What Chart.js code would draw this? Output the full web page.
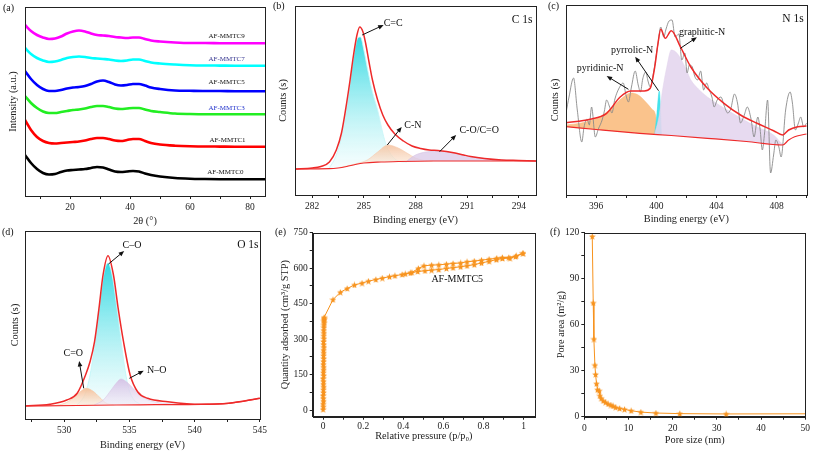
<!DOCTYPE html>
<html>
<head>
<meta charset="utf-8">
<script src="https://cdn.jsdelivr.net/npm/chart.js@4.4.1/dist/chart.umd.min.js"></script>
<style>
  body { margin: 0; background: #fff; width: 813px; height: 452px; position: relative; overflow: hidden; font-family: 'Liberation Serif', serif; }
  canvas { position: absolute; }
  .tag { position: absolute; font-size: 10px; color: #111; }
</style>
</head>
<body>
<canvas id="pa"></canvas><canvas id="pb"></canvas><canvas id="pc"></canvas>
<canvas id="pd"></canvas><canvas id="pe"></canvas><canvas id="pf"></canvas>
<div class="tag" style="left:3px;top:2px">(a)</div>
<div class="tag" style="left:273px;top:0px">(b)</div>
<div class="tag" style="left:548px;top:0px">(c)</div>
<div class="tag" style="left:2px;top:226px">(d)</div>
<div class="tag" style="left:275px;top:226px">(e)</div>
<div class="tag" style="left:550px;top:226px">(f)</div>
<script>
// (a) XRD patterns, stacked (intensity in arbitrary offset units)
const xrdAngle = [5,7,9,11,13,15,17,19,21,23,25,27,29,31,33,35,37,39,41,43,45,47,50,55,60,65,70,75,80,85];
const mmtc9 = [171,165,161,158.5,157,157.5,159.5,162.5,164.5,165.5,164.5,162.5,161,160.5,160,159,158.5,158,158.5,158.5,157,155.5,154.5,153.5,153,153,152.8,152.7,152.7,152.7];
const mmtc7 = [148,142,138,135.5,134,134.5,136,138,139,139.5,139,138,137.5,137,136.5,135.5,135,135.5,136.5,136.5,135,133.5,132.5,131.5,130.8,130.5,130.4,130.3,130.3,130.3];
const mmtc5 = [125,117,111,107,105,105,106,107.5,108.5,109,110,112,114.5,115.5,114,111.5,110.5,111,112,112,110.5,108.5,107,105.5,105.2,105,105,104.8,104.8,104.8];
const mmtc3 = [100,93,88,84.5,83,83,84,85,86,86.5,87.5,89,90,90,89,87.5,87,87.5,88,88,86.5,85,84,82.5,82,81.8,81.7,81.7,81.7,81.7];
const mmtc1 = [76,66,59,55,53,52.5,53,53.5,54,54.5,55.5,57,58,58,57,55.5,55,56,57,57,55,53,51.5,50.3,49.7,49.5,49.4,49.3,49.3,49.3];
const mmtc0 = [41,33,27,23,21.5,22,24,25.5,26,26.5,27,28,29,28.5,26.5,24.5,24,24.5,25,24.5,22.5,21,19.5,18,17.3,17,16.8,16.7,16.7,16.7];

// (b) C 1s
const c1sEnvE = [281,282,282.5,283,283.4,283.7,284.0,284.2,284.4,284.6,284.76,284.95,285.1,285.3,285.5,285.8,286.1,286.4,286.8,287.3,287.8,288.3,288.8,289.3,289.8,290.3,290.8,291.2,292,293,294,295];
const c1sEnv = [26,27,28.5,33,45,62,92,115,140,160,168,163,152,133,115,95,80,70,61,54,49,46.5,45,44.5,43.5,42,40,38.5,36.5,35,34.5,34];
const c1sBgE = [281,283,283.5,284,284.5,285,286,287,289,295];
const c1sBg = [26,26.3,27,28.5,30.5,32,33,33.5,34,34];
const c1sCCE = [283.0,283.4,283.8,284.1,284.4,284.65,284.8,285.0,285.2,285.5,285.8,286.1,286.3,286.6,287.0,287.5];
const c1sCC = [27,40,66,100,138,157,158,145,127,103,85,62,50,40,34,33];
const c1sCNE = [283.6,284.5,285.2,285.8,286.4,287.0,287.5,288.0,288.5,289.0];
const c1sCN = [27.5,31,35,43,50,47,42,37,34.5,34];
const c1sCOE = [287.5,288.0,288.6,289.3,289.9,290.5,291.2,292,293,295];
const c1sCO = [34,40,43,44,43,41,38.5,36.5,35,34];

// (c) N 1s
const n1sEnvE = [394,395.6,396.7,397.6,398.3,399.2,399.6,399.9,400.1,400.3,400.6,401.0,401.6,402.3,403.4,404.5,405.6,406.7,407.8,408.4,408.8,409.4,410];
const n1sEnv = [72.3,75.7,81.7,98,104,104,106.7,128,150,165.7,156.7,164.3,148.3,128,106.7,91.7,80,71.7,64.3,60,65,68.3,69];
const n1sBgE = [394,396,398.9,401,403.4,406,408.4,408.8,409.2,410];
const n1sBg = [68.3,65.5,61.7,59.5,56.7,53.5,50,55,58.3,61];
const n1sPydE = [394,395,396,396.8,397.5,398.0,398.3,398.8,399.3,399.7,399.95,400.1];
const n1sPyd = [70,72,76.5,84,94,100,102,100,93,86,80,60.4];
const n1sPyrE = [399.9,400.05,400.2,400.35];
const n1sPyr = [61,82,104,60.3];
const n1sGraE = [399.9,400.2,400.4,400.7,401.0,401.3,401.6,402.0,402.3,402.8,403.4,404.5,405.6,406.7,407.8,408.3,408.45];
const n1sGra = [61,80,103,128,145,143,137,125,115,106,98,87,77,68,60,52,50];
const n1sRawE = [394.0,394.2,394.5,394.75,395.05,395.2,395.4,395.55,395.7,395.95,396.15,396.4,396.55,396.7,396.9,397.05,397.25,397.5,397.8,398.0,398.15,398.35,398.6,398.8,398.95,399.1,399.3,399.45,399.6,399.8,399.95,400.1,400.3,400.5,400.65,400.85,401.05,401.25,401.5,401.7,401.9,402.05,402.2,402.4,402.55,402.75,402.95,403.15,403.35,403.5,403.7,403.85,404.05,404.3,404.5,404.75,404.95,405.2,405.4,405.6,405.85,406.05,406.3,406.5,406.75,406.9,407.05,407.2,407.4,407.6,407.8,407.95,408.15,408.3,408.6,408.9,409.05,409.25,409.45,409.6,409.8,410.0];
const n1sRaw = [82,98,117,85,53,68,76,70,88,58,66,75,84,95,88,82,96,106,112,99,93,108,124,110,103,116,123,114,108,121,135,150,168,158,166,174,175,158,161,135,142,122,130,128,119,115,124,105,112,106,98,88,95,98,90,82,86,101,92,72,80,88,76,58,78,66,45,62,95,22,40,55,48,38,85,103,92,65,72,78,68,72];

// (d) O 1s
const o1sEnvE = [527,528.9,530.2,531.0,531.64,532.0,532.33,532.67,532.98,533.36,533.78,534.14,534.55,535.06,535.63,536.4,537.95,540.5,542.6,545];
const o1sEnv = [13,14.7,19,25.7,44,58,77.3,110.7,144,163.3,144,110.7,77.3,44,27.3,20.7,17.3,14.7,15.7,20.7];
const o1sBgE = [527,531,534,537,540.5,542.6,545];
const o1sBg = [13,13.5,14,14.3,14.7,15.7,20.7];
const o1sCOE = [531.0,531.6,532.0,532.4,532.7,533.0,533.36,533.7,534.0,534.3,534.6,534.9,535.3,535.8];
const o1sCO = [14,25,45,80,112,142,156,142,115,85,55,33,20,15];
const o1sCdOE = [529.3,530.0,530.7,531.2,531.7,532.2,532.7,533.2,533.8];
const o1sCdO = [13.5,15.5,21,27,30.7,28,22,16,14.2];
const o1sNOE = [532.3,533.0,533.6,534.0,534.35,534.8,535.4,536.0,536.8,537.8,539.0];
const o1sNO = [14,19,29,36,40,37,29,22,17.5,15.5,14.7];

// (e) N2 isotherm
const betLowP = [0.000,0.001,0.000,0.002,0.001,0.000,0.002,0.001,0.003,0.001,0.002,0.000,0.003,0.001,0.002,0.003,0.001,0.002,0.003,0.002,0.003,0.002,0.004,0.003,0.002,0.004,0.003,0.004,0.003,0.004,0.004,0.005,0.004,0.005,0.005];
const betLowQ = [3,14,26,38,50,62,74,86,98,110,122,134,146,158,170,182,194,206,218,230,242,254,266,278,290,302,314,326,338,350,360,369,377,383,388];
const betAdsP = [0.005,0.049,0.086,0.12,0.156,0.194,0.226,0.263,0.295,0.331,0.358,0.394,0.435,0.472,0.508,0.541,0.577,0.615,0.648,0.686,0.718,0.754,0.79,0.828,0.864,0.894,0.932,0.96,0.997];
const betAdsQ = [392,467,498,514,529,537,545,552,558,564,568,573,580,586,589,592,594,599,602,606,610,615,622,629,636,641,642,649,663];
const betDesP = [0.997,0.964,0.926,0.894,0.866,0.828,0.79,0.754,0.718,0.686,0.648,0.615,0.577,0.541,0.503,0.475,0.443,0.41];
const betDesQ = [663,652,645,645,642,638,634,630,627,622,620,617,614,613,610,599,582,576];

// (f) pore area distribution
const poreSize = [1.8,2.02,2.17,2.4,2.55,2.77,3.0,3.37,3.52,3.82,4.27,4.8,5.4,6.0,6.5,7.1,8.0,9.1,10.6,12.8,16.2,21.6,32.1,50];
const poreArea = [117.6,74.2,50.6,33.6,27.6,21.5,17.6,16.9,13.7,12.0,10.4,9.4,8.3,7.6,7.0,6.1,5.4,4.8,3.9,3.0,2.4,2.0,1.8,1.9];

Chart.defaults.font.family = "'Liberation Serif', 'Times New Roman', serif";
Chart.defaults.font.size = 9.5;
Chart.defaults.color = '#222';

const RED = '#ee2a2a';
const ORANGE = '#f7931e';

const pts = (xs, ys) => xs.map((x, i) => ({ x: x, y: ys[i] }));

// arrows, labels and the closed frame round the plot area
Chart.register({
  id: 'notes',
  afterDatasetsDraw(chart, args, opts) {
    const { ctx, scales: { x, y } } = chart;
    ctx.save();
    (opts.arrows || []).forEach(a => {
      const x1 = x.getPixelForValue(a[0]), y1 = y.getPixelForValue(a[1]);
      const x2 = x.getPixelForValue(a[2]), y2 = y.getPixelForValue(a[3]);
      const ang = Math.atan2(y2 - y1, x2 - x1);
      ctx.strokeStyle = '#111'; ctx.fillStyle = '#111'; ctx.lineWidth = 1;
      ctx.beginPath(); ctx.moveTo(x1, y1); ctx.lineTo(x2 - 3 * Math.cos(ang), y2 - 3 * Math.sin(ang)); ctx.stroke();
      ctx.beginPath();
      ctx.moveTo(x2, y2);
      ctx.lineTo(x2 - 6 * Math.cos(ang - 0.4), y2 - 6 * Math.sin(ang - 0.4));
      ctx.lineTo(x2 - 6 * Math.cos(ang + 0.4), y2 - 6 * Math.sin(ang + 0.4));
      ctx.closePath(); ctx.fill();
    });
    (opts.labels || []).forEach(l => {
      ctx.font = (l.size || 10) + "px 'Liberation Serif', serif";
      ctx.fillStyle = l.color || '#111';
      ctx.textAlign = l.align || 'center';
      ctx.textBaseline = 'middle';
      ctx.fillText(l.text, x.getPixelForValue(l.x), y.getPixelForValue(l.y));
    });
    ctx.restore();
  },
  afterDraw(chart) {
    const a = chart.chartArea, ctx = chart.ctx;
    ctx.save();
    ctx.strokeStyle = '#222'; ctx.lineWidth = 1;
    ctx.strokeRect(Math.round(a.left) + 0.5, Math.round(a.top) + 0.5, Math.round(a.right - a.left), Math.round(a.bottom - a.top));
    ctx.restore();
  }
});

function xAxis(min, max, major, minor, title, size, titlePad, tickPad) {
  const all = major.concat(minor).sort((a, b) => a - b);
  return {
    type: 'linear', min: min, max: max,
    afterBuildTicks: s => { s.ticks = all.map(v => ({ value: v })); },
    afterFit: s => { s.height = size; },
    ticks: { autoSkip: false, maxRotation: 0, padding: tickPad, callback: v => major.includes(v) ? String(v) : '' },
    grid: { drawOnChartArea: false, drawTicks: true, tickLength: 3, color: '#222' },
    border: { color: '#222' },
    title: { display: true, text: title, font: { size: 10.3 }, padding: { top: 0, bottom: titlePad } }
  };
}

function yAxis(min, max, major, minor, title, size, titlePad) {
  const all = major.concat(minor).sort((a, b) => a - b);
  return {
    type: 'linear', min: min, max: max,
    afterBuildTicks: s => { s.ticks = all.map(v => ({ value: v })); },
    afterFit: s => { s.width = size; },
    ticks: { autoSkip: false, padding: 2, callback: v => major.includes(v) ? String(v) : '' },
    grid: { drawOnChartArea: false, drawTicks: true, tickLength: 3, color: '#222' },
    border: { color: '#222' },
    title: { display: true, text: title, font: { size: 10.3 }, padding: { top: titlePad, bottom: 0 } }
  };
}

function yBlank(max, title, size, titlePad) {
  return {
    type: 'linear', min: 0, max: max,
    afterFit: s => { s.width = size; },
    ticks: { display: false },
    grid: { display: false },
    border: { color: '#222' },
    title: { display: true, text: title, font: { size: 10.3 }, padding: { top: titlePad, bottom: 0 } }
  };
}

function panel(id, box, datasets, xOpt, yOpt, notes) {
  const cv = document.getElementById(id);
  cv.width = box.w; cv.height = box.h;
  cv.style.left = box.l + 'px'; cv.style.top = box.t + 'px';
  return new Chart(cv, {
    type: 'line',
    data: { datasets: datasets },
    options: {
      responsive: false, animation: false, devicePixelRatio: 1,
      layout: { padding: { top: box.pt, right: box.pr, left: 0, bottom: 0 } },
      elements: { point: { radius: 0 } },
      plugins: { legend: { display: false }, tooltip: { enabled: false }, notes: notes },
      scales: { x: xOpt, y: yOpt }
    }
  });
}

function fade(color, vTop, vBot, low) {
  return c => {
    const ch = c.chart;
    if (!ch.chartArea) return color;
    const y = ch.scales.y;
    const g = ch.ctx.createLinearGradient(0, y.getPixelForValue(vTop), 0, y.getPixelForValue(vBot));
    g.addColorStop(0, color);
    g.addColorStop(1, low);
    return g;
  };
}

function curve(xs, ys, color, width, extra) {
  return Object.assign({ data: pts(xs, ys), borderColor: color, borderWidth: width, fill: false,
    tension: 0.4, cubicInterpolationMode: 'monotone', pointRadius: 0 }, extra || {});
}

function starImg(size, color) {
  const c = document.createElement('canvas');
  c.width = size; c.height = size;
  const g = c.getContext('2d');
  g.fillStyle = color;
  g.beginPath();
  for (let i = 0; i < 10; i++) {
    const r = i % 2 ? size * 0.22 : size * 0.5;
    const a = -Math.PI / 2 + i * Math.PI / 5;
    g.lineTo(size / 2 + r * Math.cos(a), size / 2 + size * 0.05 + r * Math.sin(a));
  }
  g.closePath(); g.fill();
  return c;
}
const star = starImg(7, ORANGE);

// (a)
panel('pa', { l: 0, t: 0, w: 270, h: 228, pt: 7, pr: 5 }, [
  curve(xrdAngle, mmtc9, '#ff00ff', 2.6),
  curve(xrdAngle, mmtc7, '#00ffff', 2.6),
  curve(xrdAngle, mmtc5, '#0000ff', 2.6),
  curve(xrdAngle, mmtc3, '#22ee22', 2.6),
  curve(xrdAngle, mmtc1, '#ff0000', 2.6),
  curve(xrdAngle, mmtc0, '#000000', 2.6)
], xAxis(5, 85, [20, 40, 60, 80], [10, 30, 50, 70], '2θ (°)', 32, 0.8, 3),
   yBlank(189, 'Intensity (a.u.)', 25, 6.8), {
  labels: [
    { text: 'AF-MMTC9', x: 72.2, y: 160, size: 7 },
    { text: 'AF-MMTC7', x: 72.2, y: 137, size: 7, color: '#34348f' },
    { text: 'AF-MMTC5', x: 72.2, y: 113.5, size: 7 },
    { text: 'AF-MMTC3', x: 72.2, y: 88, size: 7, color: '#2233cc' },
    { text: 'AF-MMTC1', x: 72.5, y: 55.5, size: 7 },
    { text: 'AF-MMTC0', x: 71.8, y: 23.5, size: 7 }
  ]
});

// (b)
panel('pb', { l: 270, t: 0, w: 270, h: 228, pt: 6, pr: 4 }, [
  curve(c1sEnvE, c1sEnv, RED, 1.5),
  curve(c1sBgE, c1sBg, RED, 1.2),
  curve(c1sCOE, c1sCO, 'rgba(210,190,225,0.9)', 0.6, { fill: 1, backgroundColor: 'rgba(218,200,232,0.75)' }),
  curve(c1sCNE, c1sCN, 'rgba(245,200,170,0.9)', 0.6, { fill: 1, backgroundColor: fade('rgba(245,195,160,0.9)', 50, 28, 'rgba(252,235,220,0.6)') }),
  curve(c1sCCE, c1sCC, 'rgba(200,245,248,1)', 0.8, { fill: 1, backgroundColor: fade('rgba(40,215,225,0.95)', 158, 28, 'rgba(235,252,252,0.5)') })
], xAxis(281, 295, [282, 285, 288, 291, 294], [283.5, 286.5, 289.5, 292.5], 'Binding energy (eV)', 33, 1.8, 3),
   yBlank(189, 'Counts (s)', 25, 7.1), {
  arrows: [[284.9, 160, 286.15, 170], [286.36, 50, 287.2, 68], [289.4, 43.3, 290.36, 60]],
  labels: [
    { text: 'C=C', x: 286.7, y: 171.7 },
    { text: 'C-N', x: 287.85, y: 70 },
    { text: 'C-O/C=O', x: 291.7, y: 65 },
    { text: 'C 1s', x: 294.8, y: 175, size: 11.5, align: 'right' }
  ]
});

// (c)
panel('pc', { l: 540, t: 0, w: 273, h: 228, pt: 5, pr: 6.3 }, [
  curve(n1sEnvE, n1sEnv, RED, 1.5),
  curve(n1sBgE, n1sBg, RED, 1.2, { tension: 0.2 }),
  curve(n1sRawE, n1sRaw, '#8a8a8a', 0.9, { tension: 0 }),
  curve(n1sGraE, n1sGra, 'rgba(225,210,235,1)', 0.5, { fill: 1, backgroundColor: 'rgba(228,214,238,0.9)' }),
  curve(n1sPyrE, n1sPyr, '#33e0ea', 0.5, { fill: 1, backgroundColor: 'rgba(60,225,235,0.95)', tension: 0 }),
  curve(n1sPydE, n1sPyd, 'rgba(250,185,120,1)', 0.5, { fill: 1, backgroundColor: 'rgba(250,188,128,0.9)' })
], xAxis(394, 410, [396, 400, 404, 408], [394, 398, 402, 406, 410], 'Binding energy (eV)', 33, 2.5, 3),
   yBlank(190, 'Counts (s)', 26, 8.8), {
  arrows: [[398.15, 105.7, 396.7, 119], [400.15, 104.3, 398.6, 138.3], [401.6, 146.7, 402.7, 157.7]],
  labels: [
    { text: 'pyridinic-N', x: 396.27, y: 126.7 },
    { text: 'pyrrolic-N', x: 398.4, y: 145 },
    { text: 'graphitic-N', x: 403.05, y: 162.3 },
    { text: 'N 1s', x: 409.8, y: 175.7, size: 11.5, align: 'right' }
  ]
});

// (d)
panel('pd', { l: 0, t: 225, w: 270, h: 227, pt: 6, pr: 10 }, [
  curve(o1sEnvE, o1sEnv, RED, 1.5),
  curve(o1sBgE, o1sBg, RED, 1.2),
  curve(o1sNOE, o1sNO, 'rgba(215,195,228,0.9)', 0.6, { fill: 1, backgroundColor: fade('rgba(212,190,228,0.9)', 40, 14, 'rgba(240,232,246,0.6)') }),
  curve(o1sCdOE, o1sCdO, 'rgba(245,195,160,0.9)', 0.6, { fill: 1, backgroundColor: fade('rgba(245,190,150,0.95)', 31, 13, 'rgba(252,232,215,0.6)') }),
  curve(o1sCOE, o1sCO, 'rgba(190,245,248,1)', 0.8, { fill: 1, backgroundColor: fade('rgba(40,215,225,0.95)', 156, 14, 'rgba(235,252,252,0.5)') })
], xAxis(527, 545, [530, 535, 540, 545], [527.5, 532.5, 537.5, 542.5], 'Binding energy (eV)', 33, 0.2, 3),
   yBlank(188, 'Counts (s)', 25, 8.8), {
  arrows: [[533.4, 155, 534.6, 168], [531.5, 30.7, 531.15, 58], [535.0, 40.7, 536.1, 48.3]],
  labels: [
    { text: 'C–O', x: 535.2, y: 174 },
    { text: 'C=O', x: 530.7, y: 65.7 },
    { text: 'N–O', x: 537.1, y: 48.3 },
    { text: 'O 1s', x: 544.9, y: 174, size: 11.5, align: 'right' }
  ]
});

// (e)
const starSet = { borderColor: ORANGE, borderWidth: 1, tension: 0, pointStyle: star, pointRadius: 3, fill: false };
panel('pe', { l: 270, t: 225, w: 270, h: 227, pt: 6.7, pr: 1.7 }, [
  Object.assign({ data: pts(betLowP.concat(betAdsP), betLowQ.concat(betAdsQ)) }, starSet),
  Object.assign({ data: pts(betDesP, betDesQ) }, starSet)
], xAxis(-0.052, 1.057, [0, 0.2, 0.4, 0.6, 0.8, 1], [0.1, 0.3, 0.5, 0.7, 0.9], 'Relative pressure (p/p₀)', 35.3, 9.1, 1),
   yAxis(-28, 750, [0, 150, 300, 450, 600, 750], [75, 225, 375, 525, 675], 'Quantity adsorbed (cm³/g STP)', 42.7, 8.8), {
  labels: [{ text: 'AF-MMTC5', x: 0.669, y: 551 }]
});

// (f)
panel('pf', { l: 540, t: 225, w: 273, h: 227, pt: 7.3, pr: 6.3 }, [
  Object.assign({ data: pts(poreSize, poreArea) }, starSet, {
    pointRadius: c => c.dataIndex === poreSize.length - 1 ? 0 : 3
  })
], xAxis(0, 50, [0, 10, 20, 30, 40, 50], [5, 15, 25, 35, 45], 'Pore size (nm)', 35.3, 5.8, 3),
   yAxis(0, 120, [0, 30, 60, 90, 120], [15, 45, 75, 105], 'Pore area (m²/g)', 44.3, 15.5), {});
</script>
</body>
</html>
